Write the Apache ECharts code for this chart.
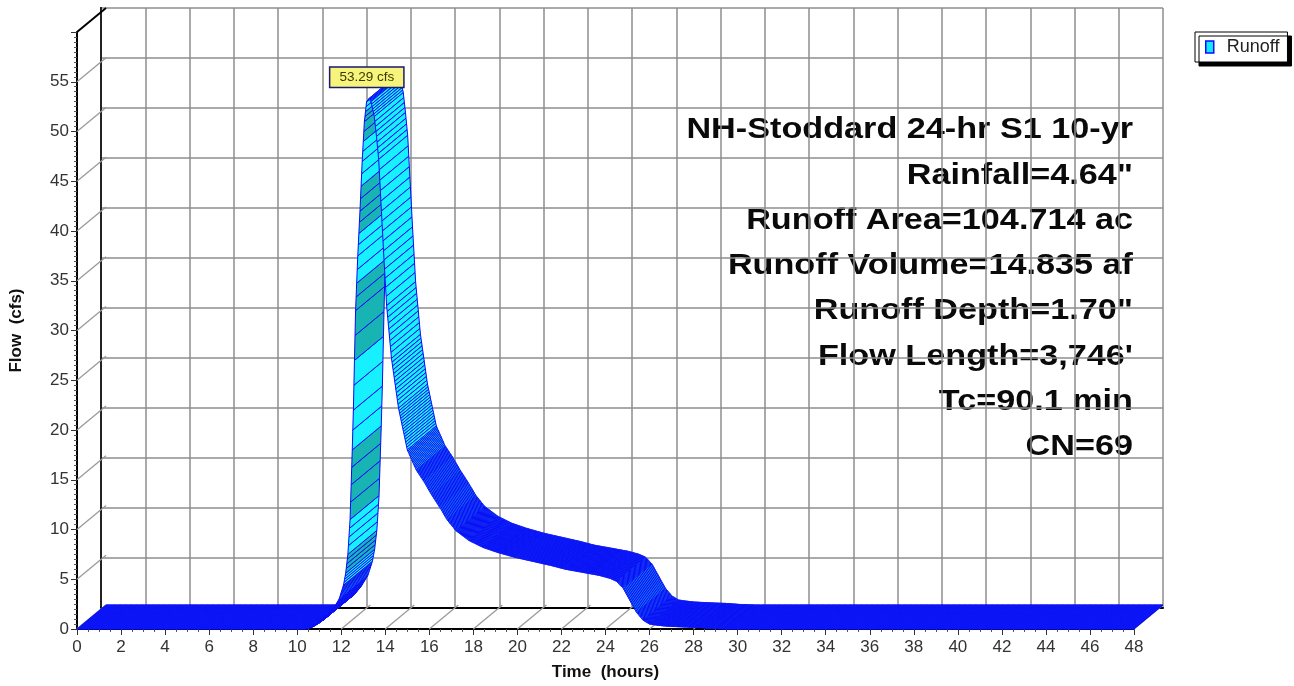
<!DOCTYPE html>
<html>
<head>
<meta charset="UTF-8">
<title>Runoff hydrograph</title>
<script src="https://cdn.jsdelivr.net/npm/echarts@6/dist/echarts.min.js"></script>
</head>
<body style="margin:0;background:#fff">
<div id="main" style="width:1294px;height:686px"></div>

<script type="text/javascript">
// hydrograph (hours, cfs)
var hours = [0, 10.4, 10.7, 11.0, 11.3, 11.6, 11.9, 12.1, 12.2, 12.3, 12.4, 12.5, 12.55, 12.6, 12.65,
  12.75, 12.85, 12.95, 13.05, 13.15, 13.25, 13.35, 13.5, 13.6, 13.7, 13.8, 13.92, 14.06, 14.28,
  14.6, 15.0, 15.4, 15.73, 16.1, 16.48, 16.8, 17.2, 17.8, 18.44, 19.1, 19.9, 20.7, 21.5, 22.2,
  22.96, 23.7, 24.2, 24.5, 24.8, 25.1, 25.4, 25.7, 26.0, 26.3, 26.7, 27.1, 27.6, 28.2, 28.8, 29.5, 48];
var flows = [0, 0, 0.2, 0.6, 1.1, 1.9, 3.0, 4.4, 5.6, 7.5, 11.0, 18.0, 22.0, 27.0, 32.0,
  37.5, 42.0, 47.0, 51.0, 53.0, 53.29, 53.0, 51.5, 49.5, 47.2, 43.0, 38.0, 32.5, 27.2,
  22.2, 18.0, 16.0, 14.9, 13.5, 12.2, 11.0, 9.9, 8.9, 8.2, 7.7, 7.2, 6.8, 6.4, 6.0,
  5.7, 5.4, 5.1, 4.8, 4.1, 2.9, 1.7, 0.9, 0.5, 0.4, 0.3, 0.25, 0.2, 0.15, 0.05, 0, 0];
var xTicks = [0, 2, 4, 6, 8, 10, 12, 14, 16, 18, 20, 22, 24, 26, 28, 30, 32, 34, 36, 38, 40, 42, 44, 46, 48];
var yTicks = [0, 5, 10, 15, 20, 25, 30, 35, 40, 45, 50, 55, 60];
var peakText = '53.29 cfs';
var infoLines = [
  'NH-Stoddard 24-hr S1 10-yr',
  'Rainfall=4.64"',
  'Runoff Area=104.714 ac',
  'Runoff Volume=14.835 af',
  'Runoff Depth=1.70"',
  "Flow Length=3,746'",
  'Tc=90.1 min',
  'CN=69'
];

// depth of the pseudo 3D box, pixels
var DX = 29, DY = -24;
var HATCH = 0.025;

var mychart = echarts.init(document.getElementById('main'));

var peakIdx = 0;
for (var i = 1; i < flows.length; i++) if (flows[i] > flows[peakIdx]) peakIdx = i;

function ribbon(params, api) {
  var i = params.dataIndex;
  var kids = [];
  if (i < hours.length - 1) {
    var t0 = hours[i], t1 = hours[i + 1], q0 = flows[i], q1 = flows[i + 1];
    var n = Math.max(1, Math.ceil((t1 - t0) / HATCH - 1e-9));
    var prev = api.coord([t0, q0]);
    for (var k = 1; k <= n; k++) {
      var tk = t0 + (t1 - t0) * k / n;
      var p = api.coord([tk, q0 + (q1 - q0) * k / n]);
      var cross = (p[0] - prev[0]) * DY - (p[1] - prev[1]) * DX;
      var fill = '#16f0ff';
      if (cross > 0 && Math.floor((tk - HATCH / 2) / 0.1) % 2 === 0) fill = '#18b4b4';
      kids.push({
        type: 'polygon',
        shape: { points: [prev, p, [p[0] + DX, p[1] + DY], [prev[0] + DX, prev[1] + DY]] },
        style: { fill: fill, stroke: '#0a0af5', lineWidth: 1 }
      });
      prev = p;
    }
  }
  if (i === peakIdx) {
    var pk = api.coord([hours[i], flows[i]]);
    kids.push({
      type: 'text', z2: 100, x: pk[0] - 2, y: pk[1] - 12,
      style: {
        text: peakText, font: '13.5px "Liberation Sans", Arial, sans-serif', fill: '#3a3a00',
        align: 'center', verticalAlign: 'bottom',
        backgroundColor: '#f6f47a', borderColor: '#1a1a70', borderWidth: 1.5, padding: [3, 9, 2, 9]
      }
    });
  }
  return { type: 'group', children: kids };
}

function wallLine(params, api) {
  var a = api.coord([api.value(0), api.value(1)]);
  var top = api.value(2);
  return {
    type: 'line',
    shape: { x1: a[0], y1: a[1], x2: a[0] + DX, y2: a[1] + DY },
    style: { stroke: top ? '#000' : '#9a9a9a', lineWidth: top ? 2 : 1.3 }
  };
}

var leftWall = yTicks.map(function (v) { return [0, v, v === 60 ? 1 : 0]; });
var floorLines = xTicks.map(function (v) { return [v, 0, 0]; });
var pts = hours.map(function (h, i) { return [h, flows[i]]; });

var font = '"Liberation Sans", Arial, sans-serif';
var texts = infoLines.map(function (s, k) {
  return {
    type: 'text', x: 1133, y: 115 + k * 45.3, scaleX: 1.14, originX: 0, originY: 0,
    style: { text: s, font: 'bold 30px ' + font, fill: '#0a0a0a', align: 'right', verticalAlign: 'alphabetic' }
  };
});

var option = {
  animation: false,
  grid: [
    { left: 72, top: 32, width: 1062, height: 600 },
    { left: 101, top: 8, width: 1062, height: 600 }
  ],
  legend: {
    left: 1195, top: 32, padding: [6, 8, 6, 10], itemWidth: 8, itemHeight: 12,
    backgroundColor: '#fff', borderColor: '#000', borderWidth: 1,
    shadowColor: '#000', shadowOffsetX: 4, shadowOffsetY: 4, shadowBlur: 0,
    textStyle: { fontFamily: font, fontSize: 18, color: '#222', padding: [0, 0, 0, 8] },
    data: [{ name: 'Runoff', icon: 'rect', itemStyle: { color: '#16e8ff', borderColor: '#0a0aff', borderWidth: 1.5 } }]
  },
  xAxis: [
    {
      type: 'value', gridIndex: 0, min: 0, max: 48, interval: 2,
      name: 'Time  (hours)', nameLocation: 'middle', nameGap: 35,
      nameTextStyle: { fontFamily: font, fontWeight: 'bold', fontSize: 17, color: '#111' },
      axisLine: { lineStyle: { color: '#000', width: 2 } },
      axisTick: { length: 6, lineStyle: { color: '#333' } },
      minorTick: { show: true, splitNumber: 4, length: 3, lineStyle: { color: '#555' } },
      axisLabel: { margin: 10, fontFamily: font, fontSize: 17, color: '#333' },
      splitLine: { show: false }
    },
    {
      type: 'value', gridIndex: 1, min: 0, max: 48, interval: 2,
      axisLine: { show: false }, axisTick: { show: false }, axisLabel: { show: false },
      splitLine: { lineStyle: { color: '#8e8e8e', width: 1.5 } }
    },
    {
      type: 'value', gridIndex: 1, min: 0, max: 48, position: 'top',
      axisLine: { lineStyle: { color: '#000', width: 2 } }, axisTick: { show: false },
      axisLabel: { show: false }, splitLine: { show: false }
    }
  ],
  yAxis: [
    {
      type: 'value', gridIndex: 0, min: 0, max: 60, interval: 5,
      name: 'Flow  (cfs)', nameLocation: 'middle', nameGap: 52,
      nameTextStyle: { fontFamily: font, fontWeight: 'bold', fontSize: 17, color: '#111' },
      axisLine: { lineStyle: { color: '#000', width: 2 } },
      axisTick: { length: 6, lineStyle: { color: '#333' } },
      minorTick: { show: true, splitNumber: 10, length: 3, lineStyle: { color: '#555' } },
      axisLabel: { margin: 8, showMaxLabel: false, fontFamily: font, fontSize: 17, color: '#333' },
      splitLine: { show: false }
    },
    {
      type: 'value', gridIndex: 1, min: 0, max: 60, interval: 5,
      axisLine: { show: true, lineStyle: { color: '#000', width: 2 } }, axisTick: { show: false },
      axisLabel: { show: false },
      splitLine: { lineStyle: { color: '#8e8e8e', width: 1.5 } }
    },
    {
      type: 'value', gridIndex: 1, min: 0, max: 60, position: 'right',
      axisLine: { show: true, lineStyle: { color: '#222', width: 2 } }, axisTick: { show: false },
      axisLabel: { show: false }, splitLine: { show: false }
    }
  ],
  series: [
    { type: 'custom', name: 'walls', xAxisIndex: 0, yAxisIndex: 0, clip: false, silent: true,
      renderItem: wallLine, data: leftWall, z: 1 },
    { type: 'custom', name: 'floor', xAxisIndex: 0, yAxisIndex: 0, clip: false, silent: true,
      renderItem: wallLine, data: floorLines, z: 1 },
    { type: 'custom', name: 'Runoff', xAxisIndex: 0, yAxisIndex: 0, clip: false,
      itemStyle: { color: '#16e8ff' }, renderItem: ribbon, data: pts, z: 3 }
  ],
  graphic: texts
};

mychart.setOption(option);
</script>
</body>
</html>
